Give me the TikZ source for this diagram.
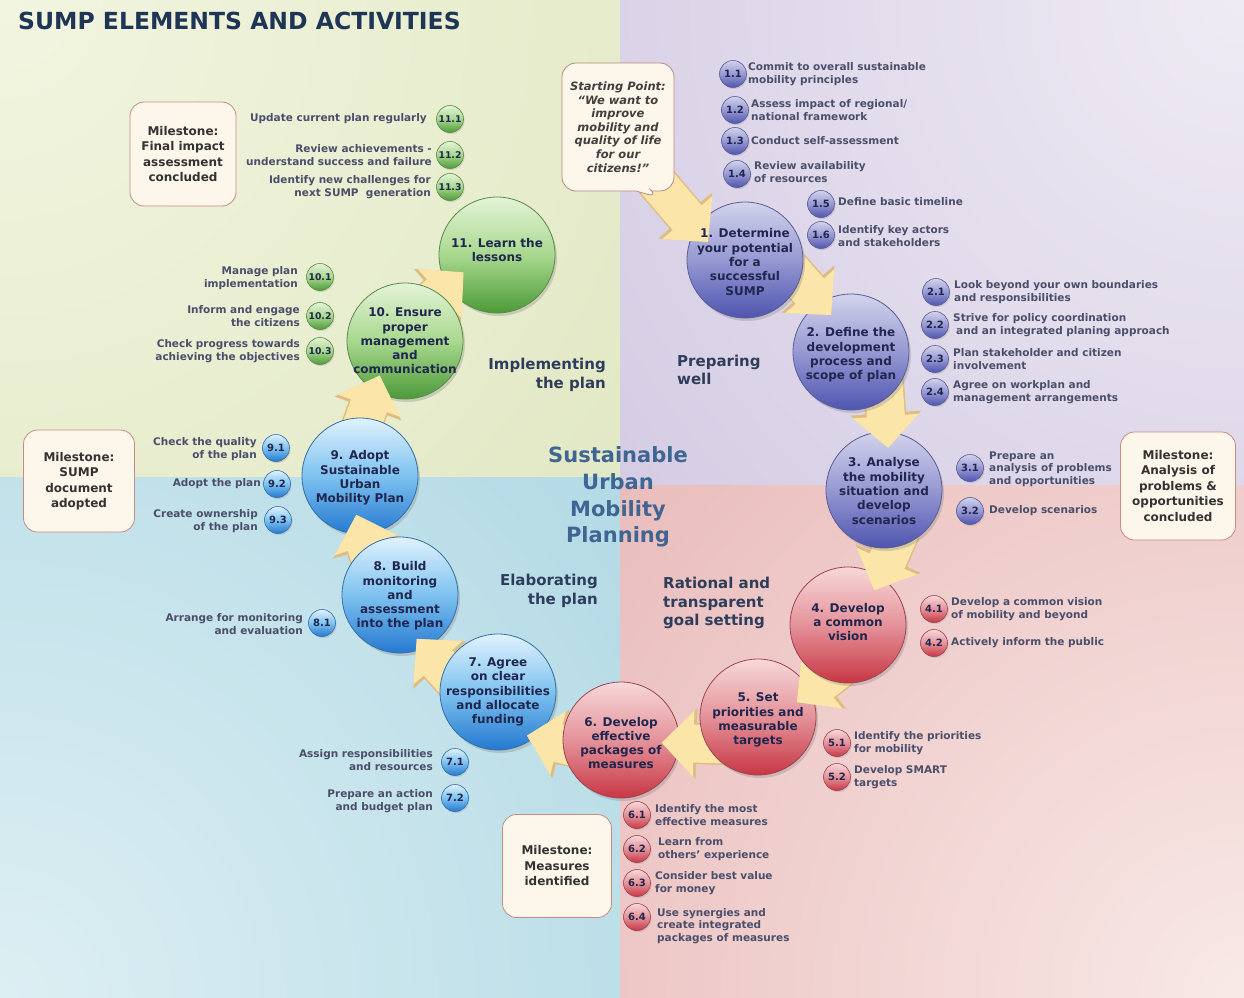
\documentclass[tikz,border=0pt]{standalone}
\usepackage{fontspec}
\setmainfont{DejaVu Sans}
\usetikzlibrary{shapes.callouts,shadows,arrows.meta}
\definecolor{tlin}{HTML}{F2F5E0}\definecolor{tlout}{HTML}{D2DCAA}
\definecolor{trin}{HTML}{EFEBF4}\definecolor{trout}{HTML}{BBAED3}
\definecolor{blin}{HTML}{DDEFF3}\definecolor{blout}{HTML}{8CC6D8}
\definecolor{brin}{HTML}{F8E9E7}\definecolor{brout}{HTML}{DC9494}
\definecolor{purt}{HTML}{D2D3EC}\definecolor{purm}{HTML}{9698D2}\definecolor{purb}{HTML}{4F55B0}\definecolor{purd}{HTML}{5A5C94}
\definecolor{redt}{HTML}{F7D8D8}\definecolor{redm}{HTML}{E4929A}\definecolor{redb}{HTML}{C73744}\definecolor{redd}{HTML}{9E4450}
\definecolor{blut}{HTML}{E0F2FD}\definecolor{blum}{HTML}{7EC2F0}\definecolor{blub}{HTML}{2478D0}\definecolor{blud}{HTML}{3470A6}
\definecolor{grnt}{HTML}{E4F3D8}\definecolor{grnm}{HTML}{A8D88E}\definecolor{grnb}{HTML}{4C9A38}\definecolor{grnd}{HTML}{5A8A48}
\definecolor{navy}{HTML}{20264E}
\definecolor{subtext}{HTML}{4A4E6A}
\definecolor{labtext}{HTML}{2E3D5C}
\definecolor{centtext}{HTML}{3F6593}
\definecolor{titletext}{HTML}{1F3556}
\definecolor{arrfill}{HTML}{FBE5A8}
\definecolor{arredge}{HTML}{DDBE80}
\definecolor{milefill}{HTML}{FDF6EA}
\definecolor{miledraw}{HTML}{C58C84}
\begin{document}
\begin{tikzpicture}[x=1pt,y=-1pt,
  bigc/.style={circle, minimum size=116pt, inner sep=0pt, line width=0.8pt,
    drop shadow={opacity=0.3,shadow xshift=2pt,shadow yshift=-3pt}},
  pur/.style={draw=purd, top color=purt, bottom color=purb, middle color=purm},
  red/.style={draw=redd, top color=redt, bottom color=redb, middle color=redm},
  blu/.style={draw=blud, top color=blut, bottom color=blub, middle color=blum},
  grn/.style={draw=grnd, top color=grnt, bottom color=grnb, middle color=grnm},
  ctext/.style={font=\bfseries\fontsize{12}{14.3}\selectfont, align=center, text=navy, inner sep=0pt},
  subc/.style={circle, minimum size=27pt, inner sep=0pt, line width=0.6pt,
    font=\bfseries\fontsize{10}{10}\selectfont, text=navy,
    drop shadow={opacity=0.25,shadow xshift=1pt,shadow yshift=-1.5pt}},
  subcs/.style={subc, font=\bfseries\fontsize{9.3}{10}\selectfont},
  subt/.style={font=\bfseries\fontsize{10.5}{12.5}\selectfont, text=subtext, inner sep=0pt},
  subl/.style={subt, anchor=west, align=left},
  subr/.style={subt, anchor=east, align=right},
  lab/.style={font=\bfseries\fontsize{15}{18.5}\selectfont, text=labtext, inner sep=0pt},
  mile/.style={draw=miledraw, fill=milefill, rounded corners=14pt, line width=0.8pt,
    font=\bfseries\fontsize{12}{15.5}\selectfont, align=center, text=black!80, inner sep=0pt},
  arrO/.style={line width=41pt, draw=arredge, -{Triangle[width=69pt,length=35pt]}},
  arrI/.style={line width=38pt, draw=arrfill, -{Triangle[width=64pt,length=32pt]}}
]
\useasboundingbox (0,0) rectangle (1244,997);
\fill[white] (0,0) rectangle (1244,997);
% quadrants
\begin{scope}\clip (0,0) rectangle (620,477);
\shade[inner color=tlin, outer color=tlout] (0,0) circle[radius=1560pt];\end{scope}
\begin{scope}\clip (620,0) rectangle (1244,485);
\shade[inner color=trin, outer color=trout] (1244,0) circle[radius=1560pt];\end{scope}
\begin{scope}\clip (0,477) rectangle (620,997);
\shade[inner color=blin, outer color=blout] (0,997) circle[radius=1560pt];\end{scope}
\begin{scope}\clip (620,485) rectangle (1244,997);
\shade[inner color=brin, outer color=brout] (1244,997) circle[radius=1560pt];\end{scope}

% title
\node[font=\bfseries\fontsize{23.5}{26}\selectfont, text=titletext, anchor=base west, inner sep=0pt] (title) at (18,29) {SUMP ELEMENTS AND ACTIVITIES};

% centre title
\node[font=\bfseries\fontsize{21}{26.7}\selectfont, text=centtext, align=center, inner sep=0pt] (centre) at (618,497) {Sustainable\\Urban\\Mobility\\Planning};

% ring centre and arrow end points
\coordinate (C) at (620,480);
\coordinate (a0s) at (648,172);             \coordinate (a0e) at (708,242);
\coordinate (a1s) at ([shift={(-52.4:272)}]C); \coordinate (a1e) at ([shift={(-38:268)}]C);
\coordinate (a2s) at ([shift={(-21:282)}]C);   \coordinate (a2e) at ([shift={(-6.8:270)}]C);
\coordinate (a3s) at ([shift={(10.2:285)}]C);  \coordinate (a3e) at ([shift={(23.5:277)}]C);
\coordinate (a4s) at ([shift={(40.3:290)}]C);  \coordinate (a4e) at ([shift={(51.5:284)}]C);
\coordinate (a5s) at ([shift={(68.1:285)}]C);  \coordinate (a5e) at ([shift={(81:266)}]C);
\coordinate (a6s) at ([shift={(97.8:272)}]C);  \coordinate (a6e) at ([shift={(110:272)}]C);
\coordinate (a7s) at ([shift={(127.7:262)}]C); \coordinate (a7e) at ([shift={(142:258)}]C);
\coordinate (a8s) at ([shift={(159.8:262)}]C); \coordinate (a8e) at ([shift={(172.5:266)}]C);
\coordinate (a9s) at ([shift={(189:266)}]C);   \coordinate (a9e) at ([shift={(203.5:262)}]C);
\coordinate (a10s) at ([shift={(220:262)}]C);  \coordinate (a10e) at ([shift={(233:260)}]C);

% circles and arrows: each arrow lies above its target and below its source
\node[bigc,grn] (c11) at (497,255) {};
\draw[arrO] (a10s) -- (a10e); \draw[arrI] (a10s) -- (a10e);
\node[bigc,grn] (c10) at (405,341) {};
\draw[arrO] (a9s) -- (a9e); \draw[arrI] (a9s) -- (a9e);
\node[bigc,blu] (c9) at (360,476) {};
\draw[arrO] (a8s) -- (a8e); \draw[arrI] (a8s) -- (a8e);
\node[bigc,blu] (c8) at (400,595) {};
\draw[arrO] (a7s) -- (a7e); \draw[arrI] (a7s) -- (a7e);
\node[bigc,blu] (c7) at (498,692) {};
\draw[arrO] (a6s) -- (a6e); \draw[arrI] (a6s) -- (a6e);
\node[bigc,red] (c6) at (621,740) {};
\draw[arrO] (a5s) -- (a5e); \draw[arrI] (a5s) -- (a5e);
\node[bigc,red] (c5) at (758,717) {};
\draw[arrO] (a4s) -- (a4e); \draw[arrI] (a4s) -- (a4e);
\node[bigc,red] (c4) at (848,625) {};
\draw[arrO] (a3s) -- (a3e); \draw[arrI] (a3s) -- (a3e);
\node[bigc,pur] (c3) at (884,490) {};
\draw[arrO] (a2s) -- (a2e); \draw[arrI] (a2s) -- (a2e);
\node[bigc,pur] (c2) at (851,352) {};
\draw[arrO] (a1s) -- (a1e); \draw[arrI] (a1s) -- (a1e);
\node[bigc,pur] (c1) at (745,260) {};
\draw[arrO] (a0s) -- (a0e); \draw[arrI] (a0s) -- (a0e);

% starting point bubble
\node[rectangle callout, callout absolute pointer={(660,198)}, callout pointer width=16pt,
  draw=miledraw!80!gray, fill=milefill,
  rounded corners=14pt, line width=0.8pt, minimum width=112pt, minimum height=128pt, inner sep=0pt,
  font=\bfseries\itshape\fontsize{11.5}{13.6}\selectfont, align=center, text=black!75] (start) at (618,127)
  {Starting Point:\\``We want to\\improve\\mobility and\\quality of life\\for our\\citizens!''};

% circle texts
\node[ctext] (t1) at (745,262) {1. Determine\\your potential\\for a\\successful\\SUMP};
\node[ctext] (t2) at (851,355) {2. Define the\\development\\process and\\scope of plan};
\node[ctext] (t3) at (884,491) {3. Analyse\\the mobility\\situation and\\develop\\scenarios};
\node[ctext] (t4) at (848,622) {4. Develop\\a common\\vision};
\node[ctext] (t5) at (758,720) {5. Set\\priorities and\\measurable\\targets};
\node[ctext] (t6) at (621,743) {6. Develop\\effective\\packages of\\measures};
\node[ctext] (t7) at (498,692) {7. Agree\\on clear\\responsibilities\\and allocate\\funding};
\node[ctext] (t8) at (400,596) {8. Build\\monitoring\\and\\assessment\\into the plan};
\node[ctext] (t9) at (360,478) {9. Adopt\\Sustainable\\Urban\\Mobility Plan};
\node[ctext] (t10) at (405,341) {10. Ensure\\proper\\management\\and\\communication};
\node[ctext] (t11) at (497,250) {11. Learn the\\lessons};

% sub-circles and texts: purple
\node[subc,pur] (s11) at (733,74) {1.1};
\node[subl] (l11) at (748,74) {Commit to overall sustainable\\mobility principles};
\node[subc,pur] (s12) at (735,110) {1.2};
\node[subl] (l12) at (751,110) {Assess impact of regional/\\national framework};
\node[subc,pur] (s13) at (735,141) {1.3};
\node[subl] (l13) at (751,141) {Conduct self-assessment};
\node[subc,pur] (s14) at (737,174) {1.4};
\node[subl] (l14) at (754,172) {Review availability\\of resources};
\node[subc,pur] (s15) at (821,204) {1.5};
\node[subl] (l15) at (838,202) {Define basic timeline};
\node[subc,pur] (s16) at (821,235) {1.6};
\node[subl] (l16) at (838,236) {Identify key actors\\and stakeholders};
\node[subc,pur] (s21) at (936,292) {2.1};
\node[subl] (l21) at (954,292) {Look beyond your own boundaries\\and responsibilities};
\node[subc,pur] (s22) at (935,325) {2.2};
\node[subl] (l22) at (953,325) {Strive for policy coordination\\\hspace*{3pt}and an integrated planing approach};
\node[subc,pur] (s23) at (935,359) {2.3};
\node[subl] (l23) at (953,359) {Plan stakeholder and citizen\\involvement};
\node[subc,pur] (s24) at (935,392) {2.4};
\node[subl] (l24) at (953,392) {Agree on workplan and\\management arrangements};
\node[subc,pur] (s31) at (970,468) {3.1};
\node[subl] (l31) at (989,469) {Prepare an\\analysis of problems\\and opportunities};
\node[subc,pur] (s32) at (970,511) {3.2};
\node[subl] (l32) at (989,511) {Develop scenarios};
% red
\node[subc,red] (s41) at (934,609) {4.1};
\node[subl] (l41) at (951,609) {Develop a common vision\\of mobility and beyond};
\node[subc,red] (s42) at (934,643) {4.2};
\node[subl] (l42) at (951,643) {Actively inform the public};
\node[subc,red] (s51) at (837,743) {5.1};
\node[subl] (l51) at (854,743) {Identify the priorities\\for mobility};
\node[subc,red] (s52) at (837,777) {5.2};
\node[subl] (l52) at (854,777) {Develop SMART\\targets};
\node[subc,red] (s61) at (637,815) {6.1};
\node[subl] (l61) at (655,815) {Identify the most\\effective measures};
\node[subc,red] (s62) at (637,849) {6.2};
\node[subl] (l62) at (658,849) {Learn from\\others' experience};
\node[subc,red] (s63) at (637,883) {6.3};
\node[subl] (l63) at (655,883) {Consider best value\\for money};
\node[subc,red] (s64) at (637,917) {6.4};
\node[subl] (l64) at (657,926) {Use synergies and\\create integrated\\packages of measures};
% blue
\node[subc,blu] (s71) at (455,762) {7.1};
\node[subr] (l71) at (433,760) {Assign responsibilities\\and resources};
\node[subc,blu] (s72) at (455,798) {7.2};
\node[subr] (l72) at (433,801) {Prepare an action\\and budget plan};
\node[subc,blu] (s81) at (322,623) {8.1};
\node[subr] (l81) at (303,624) {Arrange for monitoring\\and evaluation};
\node[subc,blu] (s91) at (276,448) {9.1};
\node[subr] (l91) at (257,449) {Check the quality\\of the plan};
\node[subc,blu] (s92) at (277,484) {9.2};
\node[subr] (l92) at (261,484) {Adopt the plan};
\node[subc,blu] (s93) at (278,520) {9.3};
\node[subr] (l93) at (258,521) {Create ownership\\of the plan};
% green
\node[subcs,grn] (s101) at (320,277) {10.1};
\node[subr] (l101) at (298,278) {Manage plan\\implementation};
\node[subcs,grn] (s102) at (320,316) {10.2};
\node[subr] (l102) at (300,316) {Inform and engage\\the citizens};
\node[subcs,grn] (s103) at (320,351) {10.3};
\node[subr] (l103) at (300,351) {Check progress towards\\achieving the objectives};
\node[subcs,grn] (s111) at (450,119) {11.1};
\node[subr] (l111) at (427,119) {Update current plan regularly};
\node[subcs,grn] (s112) at (450,155) {11.2};
\node[subr] (l112) at (432,155) {Review achievements -\\understand success and failure};
\node[subcs,grn] (s113) at (450,187) {11.3};
\node[subr] (l113) at (431,187) {Identify new challenges for\\next SUMP\ \ generation};

% milestones
\node[mile, minimum width=106pt, minimum height=104pt] (m11) at (183,154) {Milestone:\\Final impact\\assessment\\concluded};
\node[mile, minimum width=111pt, minimum height=102pt] (m9) at (79,481) {Milestone:\\SUMP\\document\\adopted};
\node[mile, minimum width=109pt, minimum height=103pt] (m6) at (557,866) {Milestone:\\Measures\\identified};
\node[mile, minimum width=115pt, minimum height=108pt] (m3) at (1178,486) {Milestone:\\Analysis of\\problems \&\\opportunities\\concluded};

% quadrant labels
\node[lab, anchor=west, align=left] (qpw) at (677,370) {Preparing\\well};
\node[lab, anchor=east, align=right] (qip) at (606,375) {Implementing\\the plan};
\node[lab, anchor=east, align=right] (qep) at (598,591) {Elaborating\\the plan};
\node[lab, anchor=west, align=left] (qrg) at (663,603) {Rational and\\transparent\\goal setting};
\end{tikzpicture}
\end{document}
